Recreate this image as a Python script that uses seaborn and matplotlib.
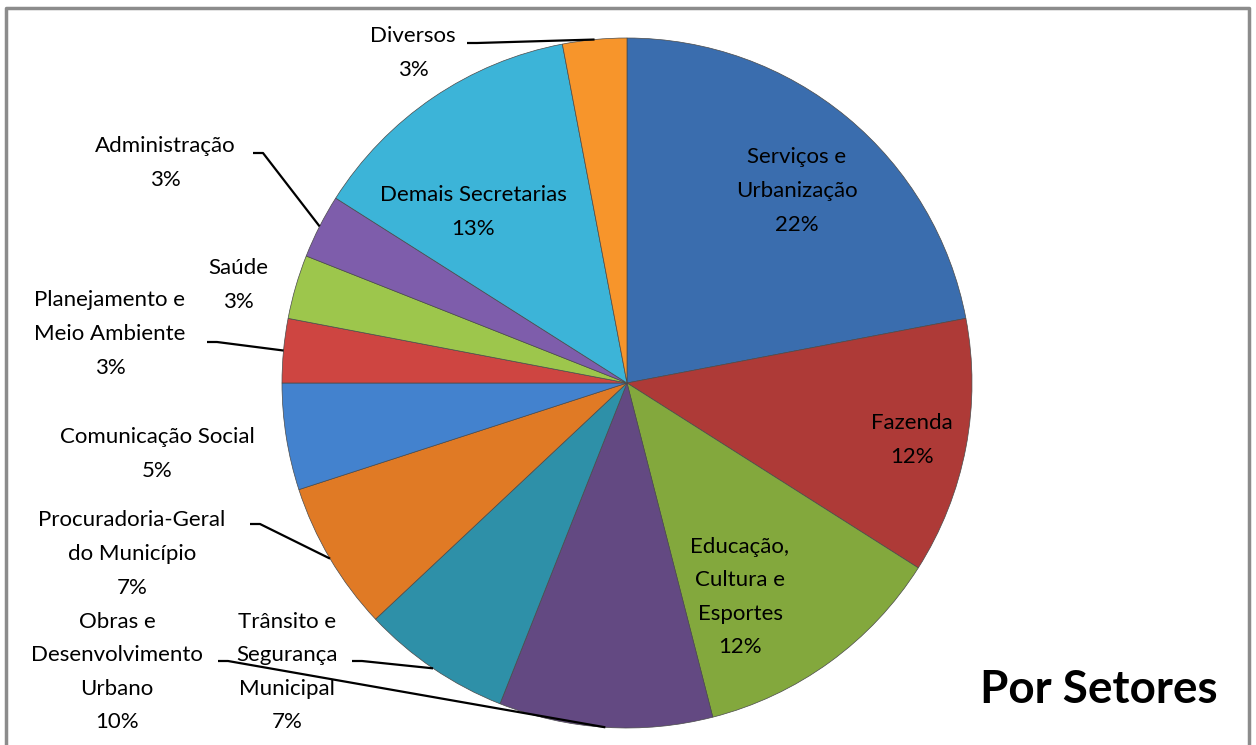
import numpy as np
import matplotlib
matplotlib.use('Agg')
import matplotlib.pyplot as plt
import seaborn as sns

# =========================
# DATA
# =========================

setores = [
    'Serviços e\nUrbanização',
    'Fazenda',
    'Educação,\nCultura e\nEsportes',
    'Obras e\nDesenvolvimento\nUrbano',
    'Trânsito e\nSegurança\nMunicipal',
    'Procuradoria-Geral\ndo Município',
    'Comunicação Social',
    'Planejamento e\nMeio Ambiente',
    'Saúde',
    'Administração',
    'Demais Secretarias',
    'Diversos',
]
percentuais = [22, 12, 12, 10, 7, 7, 5, 3, 3, 3, 13, 3]

cores = [
    '#3A6DAE', '#AE3A37', '#83A83D', '#634982', '#2E90A8', '#E07A25',
    '#4382CE', '#CE4541', '#9DC64C', '#7E5DAB', '#3CB4D8', '#F7952B',
]

# label centre (pixels, from top-left) and start of the leader line
label_pos = [
    (797, 191), (912, 440), (740, 597), (117, 672), (287, 672), (132, 554),
    (157, 454), (110, 334), (238, 285), (165, 163), (473, 212), (413, 53),
]
leader_from = [
    None, None, None, (218, 661), (352, 661), (250, 524),
    None, (207, 342), None, (253, 153), None, (467, 43),
]

W, H = 1256, 745
CX, CY, R = 627, 383, 345

# =========================
# PLOT
# =========================

sns.set_theme(style='white')
plt.rcParams['font.family'] = ['Lato', 'DejaVu Sans']

fig = plt.figure(figsize=(W / 100, H / 100), dpi=100)
ax = fig.add_axes([0, 0, 1, 1])

wedges, _ = ax.pie(
    percentuais,
    colors=cores,
    startangle=90,
    counterclock=False,
    center=(CX, H - CY),
    radius=R,
    frame=True,
    wedgeprops=dict(edgecolor='#4A4A4A', linewidth=0.5),
)

ax.set_xlim(0, W)
ax.set_ylim(0, H)
ax.set_axis_off()

for i, (nome, pct) in enumerate(zip(setores, percentuais)):
    x, y = label_pos[i]
    ax.text(x, H - y, f'{nome}\n{pct}%', ha='center', va='center',
            fontsize=16, color='black', linespacing=1.85)

    if leader_from[i] is not None:
        w = wedges[i]
        mid = np.deg2rad((w.theta1 + w.theta2) / 2)
        px = CX + R * np.cos(mid)
        py = (H - CY) + R * np.sin(mid)
        lx, ly = leader_from[i]
        ly = H - ly
        step = 10 if px > lx else -10
        ax.plot([lx, lx + step, px], [ly, ly, py], color='black', lw=1.6,
                solid_capstyle='butt')

ax.text(1099, H - 690, 'Por Setores', ha='center', va='center',
        fontsize=33, fontweight='bold', color='black')

# chart frame
ax.plot([6, 6, 1249, 1249], [0, H - 8, H - 8, 0], color='#8C8C8C', lw=2.5)

fig.savefig('out.png', dpi=100)
plt.close()
